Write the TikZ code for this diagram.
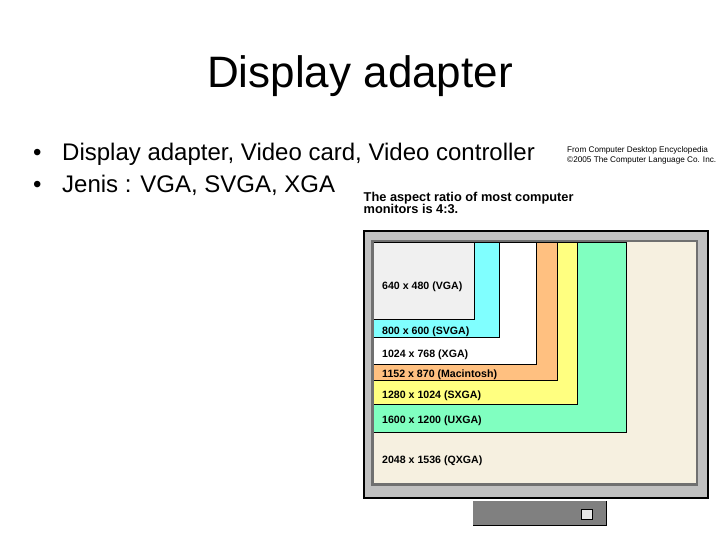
\documentclass[tikz,border=0pt]{standalone}
\usepackage{fontspec}
\setmainfont{Liberation Sans}
\definecolor{bezel}{HTML}{C0C0C0}
\definecolor{screenedge}{HTML}{707070}
\definecolor{qxga}{HTML}{F6F0E0}
\definecolor{uxga}{HTML}{80FFC0}
\definecolor{sxga}{HTML}{FFFF80}
\definecolor{mac}{HTML}{FFC080}
\definecolor{xga}{HTML}{FFFFFF}
\definecolor{svga}{HTML}{80FFFF}
\definecolor{vga}{HTML}{F0F0F0}
\definecolor{stand}{HTML}{808080}
\definecolor{button}{HTML}{E8E8E8}
\begin{document}
\begin{tikzpicture}[x=1pt,y=-1pt,every node/.style={inner sep=0pt,anchor=base west},
  reslabel/.style={font=\fontsize{10.6}{12}\selectfont\bfseries}]
  \useasboundingbox (0,0) rectangle (720,540);
  \node[anchor=base,font=\fontsize{44}{50}\selectfont] (title) at (360,88) {Display adapter};
  \node[font=\fontsize{24}{28}\selectfont] (dota) at (33,161) {\textbullet};
  \node[font=\fontsize{24}{28}\selectfont] (itema) at (62,161) {Display adapter, Video card, Video controller};
  \node[font=\fontsize{24}{28}\selectfont] (dotb) at (33,193) {\textbullet};
  \node[font=\fontsize{24}{28}\selectfont] (itemb) at (62,193) {Jenis : VGA, SVGA, XGA};
  \node[font=\fontsize{8.2}{9}\selectfont] (srca) at (567,152.5) {From Computer Desktop Encyclopedia};
  \node[font=\fontsize{8.2}{9}\selectfont] (srcb) at (567,163) {\textcopyright2005 The Computer Language Co. Inc.};
  \node[font=\fontsize{12.8}{14}\selectfont\bfseries] (capa) at (363.5,201.5) {The aspect ratio of most computer};
  \node[font=\fontsize{12.8}{14}\selectfont\bfseries] (capb) at (363.5,214) {monitors is 4:3.};
  % monitor
  \draw[line width=2pt,fill=bezel] (364,231) rectangle (708,498);
  \fill[qxga] (372.5,241) rectangle (697,484.5);
  \foreach \r/\b/\c in {626/432/uxga,577/404/sxga,557/380/mac,536/364/xga,499.5/337.5/svga,474/319/vga}
    \draw[line width=0.8pt,fill=\c] (373.5,242) rectangle (\r,\b);
  \draw[line width=2.5pt,screenedge] (372.5,241) rectangle (697,484.5);
  \node[reslabel] (lvga) at (382,289) {640 x 480 (VGA)};
  \node[reslabel] (lsvga) at (382,334) {800 x 600 (SVGA)};
  \node[reslabel] (lxga) at (382,357) {1024 x 768 (XGA)};
  \node[reslabel] (lmac) at (382,377) {1152 x 870 (Macintosh)};
  \node[reslabel] (lsxga) at (382,398) {1280 x 1024 (SXGA)};
  \node[reslabel] (luxga) at (382,423) {1600 x 1200 (UXGA)};
  \node[reslabel] (lqxga) at (382,463) {2048 x 1536 (QXGA)};
  % stand
  \fill[stand] (473,501) rectangle (607,526);
  \draw[line width=1.5pt] (473,525.3) -- (606.3,525.3) -- (606.3,501);
  \draw[line width=0.8pt,fill=button] (581.5,509.5) rectangle (592.5,519.5);
\end{tikzpicture}
\end{document}
